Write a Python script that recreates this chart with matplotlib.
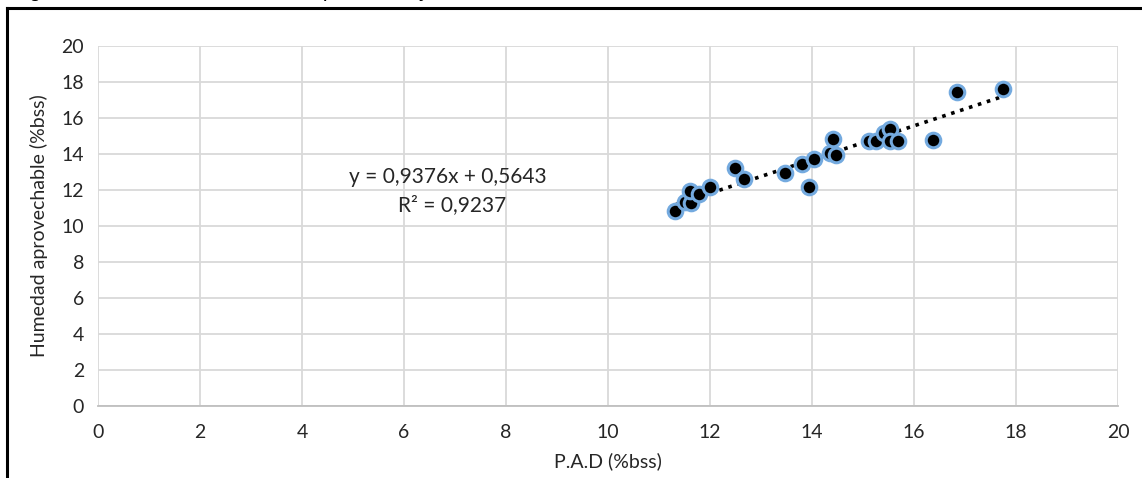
import matplotlib
matplotlib.use("Agg")
import matplotlib.pyplot as plt
from matplotlib.lines import Line2D
import numpy as np

# Data
pad = [11.31, 11.51, 11.62, 11.61, 11.79, 12.00, 12.49, 12.66, 13.47, 13.80,
       14.03, 13.94, 14.36, 14.48, 14.42, 15.11, 15.26, 15.42, 15.53, 15.53,
       15.69, 16.38, 16.85, 17.75]
humedad = [10.82, 11.35, 11.28, 11.95, 11.77, 12.14, 13.24, 12.63, 12.95, 13.42,
           13.74, 12.14, 14.03, 13.93, 14.82, 14.70, 14.70, 15.16, 15.40, 14.70,
           14.74, 14.80, 17.42, 17.60]
slope = 0.9376
intercept = 0.5643
r2 = 0.9237
xticks = list(range(0, 21, 2))
yticks = list(range(0, 21, 2))

title = "Figura 3. Correlación entre datos predichos y datos medidos"
xlabel = "P.A.D (%bss)"
ylabel = "Humedad aprovechable (%bss)"

plt.rcParams['font.family'] = ['Lato', 'DejaVu Sans']

fig = plt.figure(figsize=(11.42, 4.78), dpi=100)
ax = fig.add_axes([98/1142, 1-406/478, (1118-98)/1142, (406-46)/478])

ax.set_xlim(0, 20)
ax.set_ylim(0, 20)
ax.set_xticks(xticks)
ax.set_yticks(yticks)
ax.grid(True, color='#D9D9D9', linewidth=1.3)
ax.set_axisbelow(True)
for s in ['top', 'right', 'left']:
    ax.spines[s].set_visible(False)
ax.spines['bottom'].set_color('#BFBFBF')
ax.spines['bottom'].set_linewidth(1.3)
ax.tick_params(length=0, labelsize=14, colors='#262626', pad=10)
ax.tick_params(axis='x', pad=13)

# trendline
xs = np.array([min(pad), max(pad)])
ax.plot(xs, slope*xs + intercept, linestyle=(0, (1, 1.6)), color='black',
        linewidth=2.6, zorder=2)

ax.scatter(pad, humedad, s=110, color='black', edgecolors='#74AADF',
           linewidths=2.2, zorder=3)

ax.text(6.86, 12.72, f"y = {slope:.4f}x + {intercept:.4f}".replace('.', ','),
        ha='center', va='center', fontsize=15, color='#262626')
ax.text(6.95, 11.17, f"R² = {r2:.4f}".replace('.', ','),
        ha='center', va='center', fontsize=15, color='#262626')

ax.set_xlabel(xlabel, fontsize=14, color='#262626', labelpad=8)
ax.set_ylabel(ylabel, fontsize=14, color='#262626', labelpad=10)

# frame lines and cut title
fig.add_artist(Line2D([7/1142, 1], [1-8/478, 1-8/478], color='black', linewidth=2.2,
                      transform=fig.transFigure))
fig.add_artist(Line2D([7/1142, 7/1142], [0, 1-8/478], color='black', linewidth=2.2,
                      transform=fig.transFigure))
fig.text(12/1142, 1+3/478, title, ha='left', va='baseline', fontsize=15,
         family='Liberation Sans', color='black')

fig.savefig("out.png", dpi=100)
